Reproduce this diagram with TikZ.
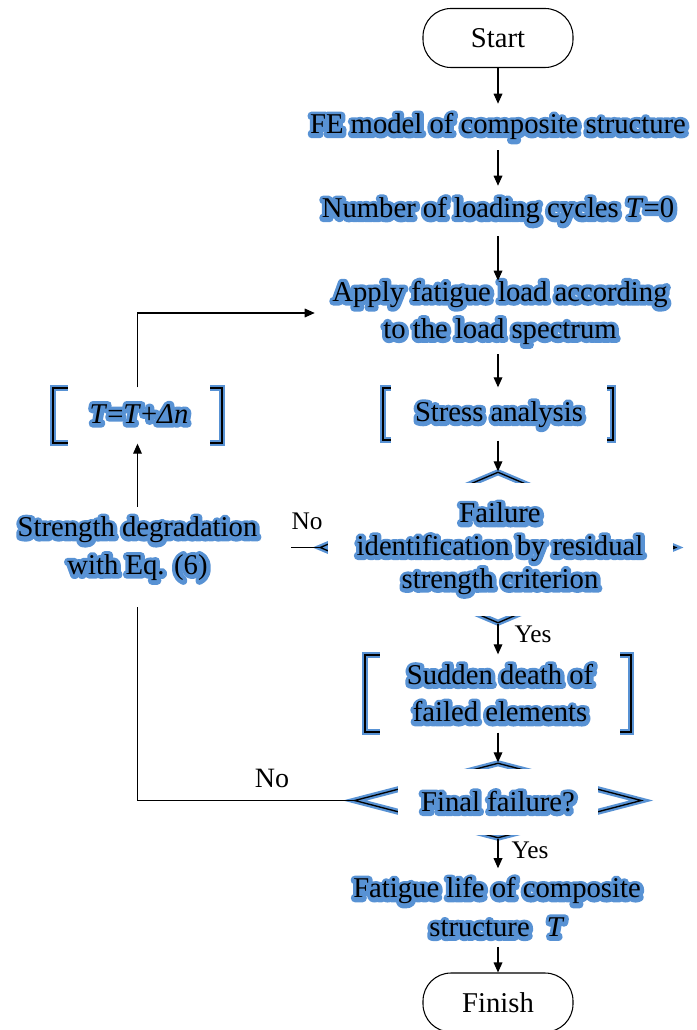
\documentclass[tikz,border=0pt]{standalone}
\usepackage{fontspec}
\setmainfont{Liberation Serif}
\newfontfamily\halofont{Liberation Serif}[FakeBold=27]
\usetikzlibrary{arrows.meta,shapes.geometric,calc}
\definecolor{hb}{RGB}{88,146,212}
\newcommand\pxu{0.75pt}
\newcommand\hl[1]{\mbox{\special{pdf:literal direct 1 j}\rlap{\hspace*{0.4pt}\raisebox{-0.4pt}{\halofont\color{hb}#1}}#1}}
\tikzset{
  txt/.style={font=\fontsize{21.5}{28}\selectfont, align=center, inner sep=0pt},
  cover/.style={txt, fill=white},
  term/.style={draw, line width=0.8pt, rounded corners=21pt, minimum width=150*\pxu, minimum height=59*\pxu, font=\fontsize{21.5}{28}\selectfont},
  frame/.style={draw, line width=1pt, preaction={draw=hb, line width=4.5pt}},
  conn/.style={line width=0.9pt, -{Triangle[length=7.5pt,width=6.5pt]}},
  plain/.style={line width=0.9pt},
  lbl/.style={font=\fontsize{19}{22}\selectfont, inner sep=0pt},
}
\begin{document}
\begin{tikzpicture}[x=0.75pt,y=-0.75pt]
\useasboundingbox (0,0) rectangle (696,1030);
% shapes partly hidden
\node[frame, rectangle, minimum width=230*\pxu, minimum height=52*\pxu] (sbox) at (498,414) {};
\node[frame, rectangle, minimum width=169*\pxu, minimum height=55*\pxu] (tbox) at (137.5,415.5) {};
\node[frame, diamond, inner sep=0pt, minimum width=356*\pxu, minimum height=151*\pxu] (d1) at (498,547.5) {};
\node[frame, rectangle, minimum width=266*\pxu, minimum height=77*\pxu] (sbox2) at (498,693.5) {};
\node[frame, diamond, inner sep=0pt, minimum width=287*\pxu, minimum height=75*\pxu] (d2) at (498,800.5) {};
% terminals
\node[term] (start) at (498,38) {Start};
\node[term] (finish) at (498,1002.5) {Finish};
% text nodes
\node[txt, minimum height=46*\pxu] (fe) at (498,127) {\hl{FE model of composite structure}};
\node[txt, minimum height=50*\pxu] (num) at (498,211) {\hl{Number of loading cycles \textit{T}=0}};
\node[txt, minimum width=370*\pxu, minimum height=62*\pxu] (apply) at (500,313) {\hl{Apply fatigue load according}\\\hl{to the load spectrum}};
\node[cover, minimum width=216*\pxu, minimum height=70*\pxu] (stress) at (499,415) {\hl{Stress analysis}};
\node[cover, minimum width=142*\pxu, minimum height=75*\pxu] (tcalc) at (139,414) {\hl{\textit{T}=\textit{T}+\textit{Δn}}};
\node[cover, minimum width=345*\pxu, minimum height=133*\pxu, font=\fontsize{21.5}{24.5}\selectfont] (fail) at (500,549) {\hl{Failure}\\\hl{identification by residual}\\\hl{strength criterion}};
\node[txt, minimum width=307*\pxu, minimum height=116*\pxu] (strength) at (137.5,549) {\hl{Strength degradation}\\\hl{with Eq. (6)}};
\node[cover, minimum width=240*\pxu, minimum height=95*\pxu] (sudden) at (500,693.5) {\hl{Sudden death of}\\\hl{failed elements}};
\node[cover, minimum width=200*\pxu, minimum height=66*\pxu] (final) at (498,802) {\hl{Final failure?}};
\node[txt, minimum height=78*\pxu, font=\fontsize{21.5}{29}\selectfont] (life) at (497,907.5) {\hl{Fatigue life of composite}\\\hl{structure\hspace{0.6em}\textit{T}}};
% connectors
\draw[conn] (start.south) -- (start.south |- fe.north);
\draw[conn] (fe.south -| num.north) -- (num.north);
\draw[conn] (num.south -| sbox.north) -- (apply.north -| sbox.north);
\draw[conn] ($(sbox.north |- apply.south)+(0,9)$) -- (sbox.north);
\draw[conn] (sbox.south) -- (d1.north);
\draw[plain] (d1.west) -- (d1.west -| strength.east);
\draw[conn] (d1.south) -- (sbox2.north);
\draw[conn] (sbox2.south) -- (d2.north);
\draw[plain] (d2.west) -| (strength.south);
\draw[conn] ($(strength.north)+(0,16)$) -- (tbox.south);
\draw[conn] (tbox.north) |- (apply.west);
\draw[conn] (d2.south) -- (d2.south |- life.north);
\draw[conn] (life.south -| finish.north) -- (finish.north);
% labels
\node[lbl] (no1) at (307,521) {No};
\node[lbl] (yes1) at (533,634) {Yes};
\node[lbl, font=\fontsize{21}{24}\selectfont] (no2) at (272,778) {No};
\node[lbl] (yes2) at (530,850) {Yes};
\end{tikzpicture}
\end{document}
